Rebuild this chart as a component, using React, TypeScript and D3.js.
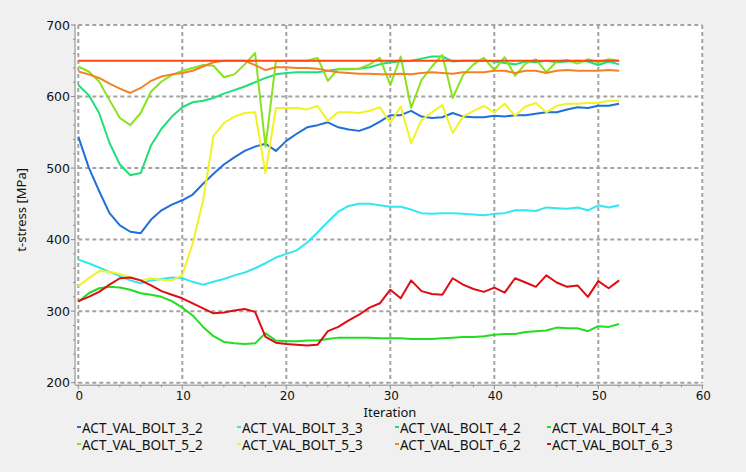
import React from "react";
import * as d3 from "d3";

const iterations: number[] = Array.from({ length: 53 }, (_, i) => i);

const bolt3_2 = [544,501,468,437,420,411,409,428,441,449,455,463,478,492,505,515,524,530,534,524,538,548,557,560,564,557,554,552,557,565,574,574,580,572,570,571,577,572,571,571,573,572,574,574,576,578,578,582,585,584,587,587,590];
const bolt3_3 = [372,367,361,355,349,343,339,343,345,347,346,341,337,341,345,350,354,360,367,375,380,385,396,410,425,439,447,450,450,448,446,446,442,437,436,437,437,436,435,434,436,437,441,441,440,445,444,443,445,441,448,445,448];
const bolt4_2 = [616,602,577,535,505,490,493,532,555,572,585,592,594,598,604,609,614,620,626,631,633,634,634,634,636,638,638,639,641,645,648,649,650,653,656,656,649,650,650,650,649,647,645,649,648,650,648,649,650,649,644,649,645];
const bolt4_3 = [313,325,332,334,333,330,325,323,320,314,305,294,278,265,257,255,254,255,269,259,258,258,259,259,261,263,263,263,263,262,262,262,261,261,261,262,263,264,264,265,267,268,268,271,272,273,277,276,276,272,279,278,282];
const bolt5_2 = [642,635,621,595,570,560,577,607,621,630,636,640,644,643,627,631,645,661,530,649,650,650,650,654,622,639,639,639,645,654,616,656,584,623,642,658,598,630,645,654,637,655,629,646,652,634,649,651,646,652,648,652,650];
const bolt5_3 = [335,346,356,355,352,347,343,346,344,343,350,395,455,545,563,572,577,578,493,584,584,584,582,587,566,578,578,577,580,585,563,586,535,567,578,588,549,572,580,587,578,590,573,586,591,578,587,590,590,591,591,594,594];
const bolt6_2 = [635,631,626,618,611,605,612,622,628,631,633,636,642,648,650,650,650,644,637,641,641,640,640,639,636,634,633,632,632,631,631,632,631,633,634,633,632,634,634,634,636,636,633,636,636,633,636,637,636,636,636,637,636];
const bolt6_3 = [314,320,327,337,346,347,343,336,328,323,318,311,304,297,298,301,303,299,264,256,254,253,252,253,272,278,287,295,305,311,330,318,343,328,324,323,346,337,331,327,333,326,346,340,334,350,340,334,336,320,342,332,343];
const limitLine = [650,650,650,650,650,650,650,650,650,650,650,650,650,650,650,650,650,650,650,650,650,650,650,650,650,650,650,650,650,650,650,650,650,650,650,650,650,650,650,650,650,650,650,650,650,650,650,650,650,650,650,650,650];

const seriesNames = ["ACT_VAL_BOLT_3_2","ACT_VAL_BOLT_3_3","ACT_VAL_BOLT_4_2","ACT_VAL_BOLT_4_3","ACT_VAL_BOLT_5_2","ACT_VAL_BOLT_5_3","ACT_VAL_BOLT_6_2","ACT_VAL_BOLT_6_3"];
const seriesValues = [bolt3_2, bolt3_3, bolt4_2, bolt4_3, bolt5_2, bolt5_3, bolt6_2, bolt6_3];
const seriesColors = ["#1f6fdc","#33e6f2","#22de78","#22dd22","#8ae21e","#f2f224","#f28224","#e00c14"];
const limitColor = "#ff4612";

const xTicks = [0,10,20,30,40,50,60];
const yTicks = [200,300,400,500,600,700];
const xMinorTicks = d3.range(0, 61, 2);
const yMinorTicks = d3.range(200, 701, 20);

// legend grid positions: [column, row] per series
const legendCol = [0, 1, 2, 3, 0, 1, 2, 3];
const legendRow = [0, 0, 0, 0, 1, 1, 1, 1];

export default function App() {
  const W = 746, H = 472;
  const x = d3.scaleLinear().domain([0, 60]).range([78.3, 702.3]);
  const y = d3.scaleLinear().domain([200, 700]).range([382.7, 25]);
  const line = d3.line<number>().x((_, i) => x(iterations[i])).y((v) => y(v));
  const gridColor = "#a3a3a3";
  const font = "'Noto Sans', 'DejaVu Sans', sans-serif";
  const tickFont = "'DejaVu Sans', sans-serif";

  const legendX = [77, 237, 395, 547];
  const legendY = [428, 445];

  return (
    <svg width={W} height={H} style={{ position: "absolute", left: 0, top: 0, display: "block" }}>
      <rect x={0} y={0} width={W} height={H} fill="#f0f0f0" />
      <rect x={x(0) - 2} y={y(700) - 1} width={x(60) - x(0) + 3} height={y(200) - y(700) + 2} fill="#ffffff" />
      {/* grid */}
      {xTicks.map((t) => (
        <line key={"gx" + t} x1={x(t)} x2={x(t)} y1={y(700)} y2={y(200)} stroke={gridColor} strokeWidth={2} strokeDasharray="4,3" />
      ))}
      {yTicks.map((t) => (
        <line key={"gy" + t} x1={x(0)} x2={x(60)} y1={y(t)} y2={y(t)} stroke={gridColor} strokeWidth={2} strokeDasharray="4,3" />
      ))}
      {/* axes */}
      <line x1={75} x2={75} y1={y(700) - 1} y2={y(200) + 2} stroke="#8c8c8c" strokeWidth={1} />
      <line x1={75} x2={x(60) + 1} y1={y(200) + 2.5} y2={y(200) + 2.5} stroke="#8c8c8c" strokeWidth={1} />
      {yMinorTicks.map((t) => (
        <line key={"ym" + t} x1={yTicks.includes(t) ? 71 : 73} x2={75} y1={y(t)} y2={y(t)} stroke="#8c8c8c" strokeWidth={1} />
      ))}
      {xMinorTicks.map((t) => (
        <line key={"xm" + t} x1={x(t)} x2={x(t)} y1={y(200) + 2.5} y2={y(200) + (xTicks.includes(t) ? 6.5 : 4.5)} stroke="#8c8c8c" strokeWidth={1} />
      ))}
      {yTicks.map((t) => (
        <text key={"yl" + t} x={70} y={y(t)} dy="0.36em" textAnchor="end" fontFamily={tickFont} fontSize={12.5} fill="#111">{t}</text>
      ))}
      {xTicks.map((t) => (
        <text key={"xl" + t} x={x(t) + 1} y={400} textAnchor="middle" fontFamily={tickFont} fontSize={12} fill="#111">{t}</text>
      ))}
      <text x={390} y={417} textAnchor="middle" fontFamily={font} fontSize={13} fill="#111">Iteration</text>
      <text transform={`translate(26,${(y(700) + y(200)) / 2 + 6}) rotate(-90)`} textAnchor="middle" fontFamily={font} fontSize={13} fill="#111">t-stress [MPa]</text>
      {/* series */}
      {seriesValues.map((vals, k) => (
        <path key={"s" + k} d={line(vals) || ""} fill="none" stroke={seriesColors[k]} strokeWidth={2} strokeLinejoin="round" />
      ))}
      <path d={line(limitLine) || ""} fill="none" stroke={limitColor} strokeWidth={2} />
      {/* legend */}
      {seriesNames.map((name, k) => {
        const cx = legendX[legendCol[k]];
        const cy = legendY[legendRow[k]];
        return (
          <g key={"lg" + k}>
            <line x1={cx} x2={cx + 4} y1={cy - 1} y2={cy - 1} stroke={seriesColors[k]} strokeWidth={2} />
            <text x={cx + 5} y={cy} dy="0.36em" fontFamily={font} fontSize={13.5} fill="#111">{name}</text>
          </g>
        );
      })}
    </svg>
  );
}
